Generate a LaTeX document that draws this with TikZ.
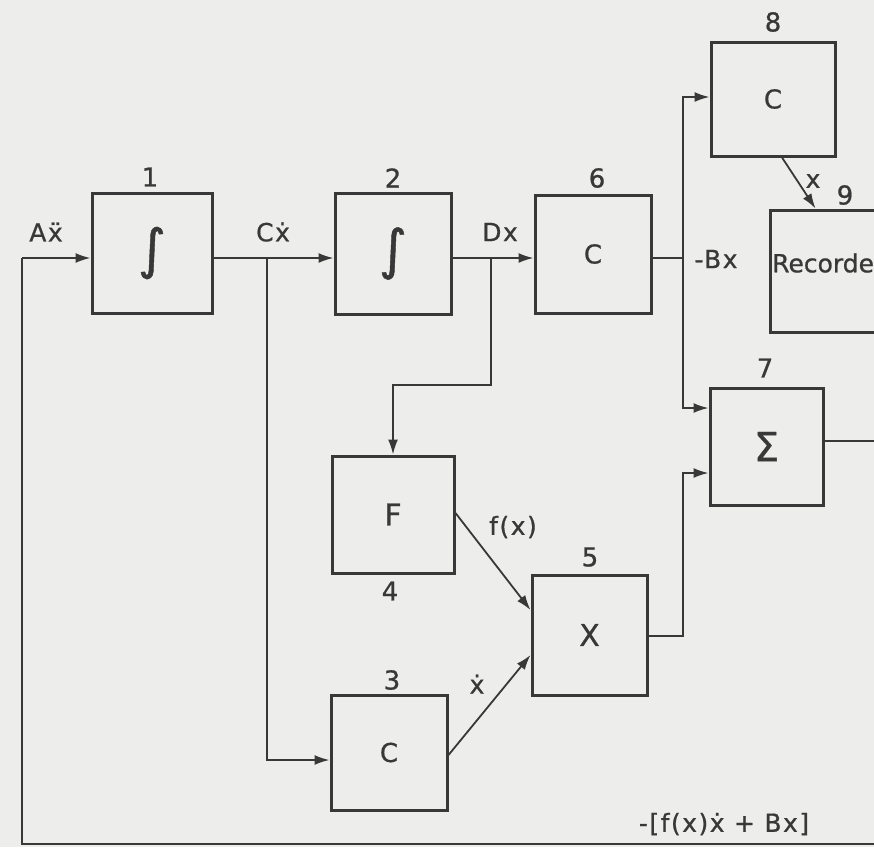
\documentclass[tikz,border=0pt]{standalone}
\usepackage{fontspec}
\setmainfont{DejaVu Sans}
\newfontfamily\lblfont[LetterSpace=6,FakeBold=0.8]{DejaVu Sans}
\newfontfamily\boxfont[FakeBold=0.8]{DejaVu Sans}
\usetikzlibrary{arrows.meta,calc}
\definecolor{bgc}{HTML}{EDEDEB}
\definecolor{ink}{HTML}{383838}
\tikzset{
  blk/.style={draw=ink, line width=3pt, minimum width=#1, inner sep=0pt, text=ink},
  conn/.style={draw=ink, line width=1.8pt},
  arr/.style={conn, -{Latex[length=15pt,width=10pt]}},
  lbl/.style={text=ink, font=\lblfont\fontsize{25}{28}\selectfont, inner sep=0pt},
  num/.style={text=ink, font=\boxfont\fontsize{26}{28}\selectfont, inner sep=0pt},
  big/.style={font=\boxfont\fontsize{26}{30}\selectfont}
}
\begin{document}
\begin{tikzpicture}[x=1pt,y=-1pt]
\fill[bgc] (0,0) rectangle (874,847);
\useasboundingbox (0,0) rectangle (874,847);
\clip (0,0) rectangle (874,847);

% blocks
\node[blk=120pt, minimum height=120pt, font=\boxfont\fontsize{54}{58}\selectfont] (b1) at (152,253) {∫};
\node[blk=116pt, minimum height=121pt, font=\boxfont\fontsize{54}{58}\selectfont] (b2) at (393,253.5) {∫};
\node[blk=116pt, minimum height=118pt, big] (b6) at (593,254) {C};
\node[blk=124pt, minimum height=114pt, big] (b8) at (773,99) {C};
\node[blk=130pt, minimum height=122pt] (b9) at (835,271) {};
\node[lbl, anchor=west, font=\boxfont\fontsize{25}{28}\selectfont] (rec) at (772,263) {Recorder};
\node[blk=113pt, minimum height=117pt, font=\boxfont\fontsize{40}{44}\selectfont] (b7) at (766.5,446.5) {Σ};
\node[blk=122pt, minimum height=117pt, font=\boxfont\fontsize{30}{34}\selectfont] (b4) at (393,514.5) {F};
\node[blk=115pt, minimum height=120pt, font=\boxfont\fontsize{30}{34}\selectfont] (b5) at (589.5,635) {X};
\node[blk=116pt, minimum height=115pt, big] (b3) at (389,752.5) {C};

% numbers
\node[num] (n1) at (150,177) {1};
\node[num] (n2) at (393,178) {2};
\node[num] (n6) at (597,178) {6};
\node[num] (n8) at (773,22) {8};
\node[num] (n9) at (845,195) {9};
\node[num] (n7) at (765,368) {7};
\node[num] (n5) at (590,557) {5};
\node[num] (n3) at (392,680) {3};
\node[num] (n4) at (390,591) {4};

% signal labels
\node[lbl] (lA) at (46,232) {Aẍ};
\node[lbl] (lC) at (273,232) {Cẋ};
\node[lbl] (lD) at (500,232) {Dx};
\node[lbl] (lB) at (716,259) {-Bx};
\node[lbl] (lx) at (813,181) {x};
\node[lbl] (lf) at (513,527) {f(x)};
\node[lbl] (ld) at (477,684) {ẋ};
\node[lbl] (lsum) at (724,824) {-[f(x)ẋ + Bx]};

% feedback loop
\coordinate (fbr) at (880,844);
\coordinate (fbl) at (22,844);
\coordinate (fbt) at (22,258);
\draw[conn] (fbr) -- (fbl) -- (fbt);
\draw[arr] (fbt) -- (fbt -| b1.west);

% 1 -> 2, branch to 3
\coordinate (j1) at (267,258);
\coordinate (j1b) at (267,760);
\draw[arr] (j1 -| b1.east) -- (j1 -| b2.west);
\draw[arr] (j1) -- (j1b) -- (j1b -| b3.west);

% 2 -> 6, branch to 4
\coordinate (j2) at (491,258);
\coordinate (j2b) at (491,385);
\draw[arr] (j2 -| b2.east) -- (j2 -| b6.west);
\draw[arr] (j2) -- (j2b) -- (j2b -| b4.north) -- (b4.north);

% 6 -> 8 and 7
\coordinate (j3) at (683,258);
\coordinate (j3t) at (683,97);
\coordinate (j3b) at (683,408);
\draw[conn] (j3 -| b6.east) -- (j3);
\draw[arr] (j3) -- (j3t) -- (j3t -| b8.west);
\draw[arr] (j3) -- (j3b) -- (j3b -| b7.west);

% 5 -> 7
\coordinate (j4) at (683,636);
\coordinate (j4t) at (683,473);
\draw[arr] (j4 -| b5.east) -- (j4) -- (j4t) -- (j4t -| b7.west);

% 7 out
\coordinate (o7) at (880,441);
\draw[conn] (o7 -| b7.east) -- (o7);

% 8 -> 9
\draw[arr] ($(b8.south)+(9,0)$) -- ($(b9.north west)+(47,0)$);

% 4 -> 5, 3 -> 5
\draw[arr] ($(b4.east)+(0,-1.5)$) -- ($(b5.west)+(0,-25)$);
\draw[arr] ($(b3.east)+(0,2.5)$) -- ($(b5.west)+(0,20)$);
\end{tikzpicture}
\end{document}
